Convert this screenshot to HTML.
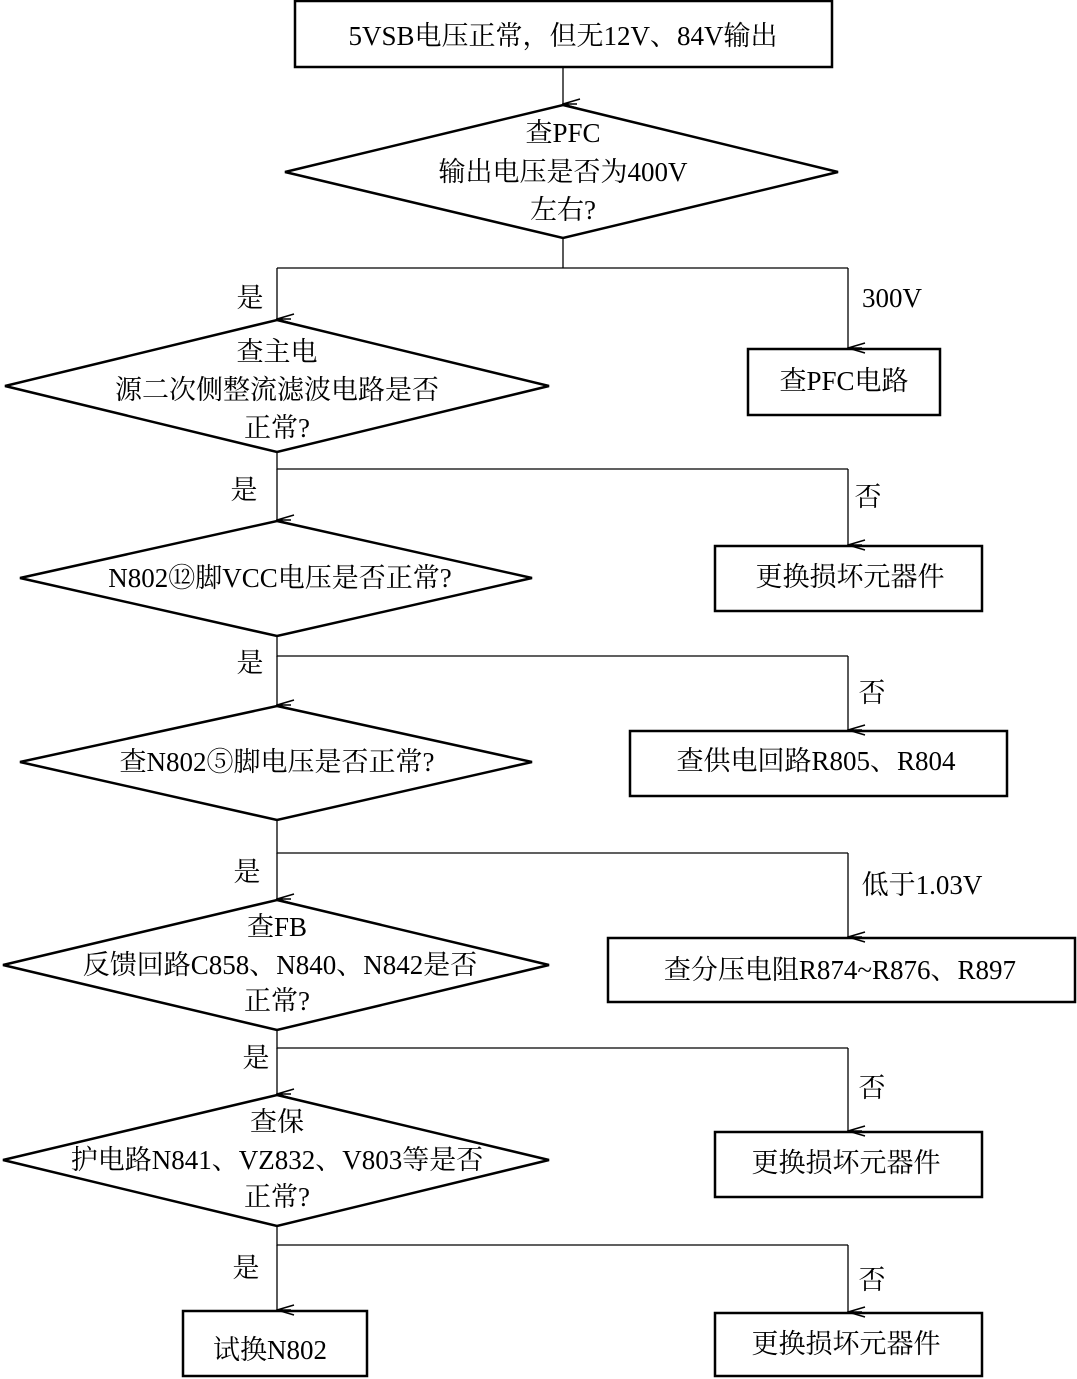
<!DOCTYPE html>
<html><head><meta charset="utf-8"><style>
html,body{margin:0;padding:0;background:#fff}
svg{display:block}
text{font-family:"Liberation Serif","Noto Serif CJK SC","Noto Sans CJK SC",serif;font-size:27px;fill:#000;text-anchor:middle;dominant-baseline:central}
</style></head><body>
<svg width="1077" height="1379" viewBox="0 0 1077 1379" xmlns="http://www.w3.org/2000/svg">
<defs><marker id="a" markerWidth="12" markerHeight="20" refX="6" refY="19" orient="auto" markerUnits="userSpaceOnUse"><path d="M1,2 L6,19 L11,2 M6,19 L6,5" fill="none" stroke="#000" stroke-width="1.5"/></marker></defs>
<g fill="none" stroke="#000" stroke-width="2.5">
<rect x="295" y="1" width="537" height="66"/>
<polygon points="563,105 838,172 563,238 285,172"/>
<polygon points="277,320 549,386 277,452 5,386"/>
<rect x="748" y="349" width="192" height="66"/>
<polygon points="277,521 532,578 277,636 20,578"/>
<rect x="715" y="546" width="267" height="65"/>
<polygon points="277,706 532,762 277,820 20,762"/>
<rect x="630" y="731" width="377" height="65"/>
<polygon points="277,900 549,965 277,1030 3,965"/>
<rect x="608" y="938" width="467" height="64"/>
<polygon points="277,1095 549,1160 277,1226 3,1160"/>
<rect x="715" y="1132" width="267" height="65"/>
<rect x="183" y="1311" width="184" height="65"/>
<rect x="715" y="1313" width="267" height="63"/>
</g>
<g fill="none" stroke="#000" stroke-width="1.3">
<path d="M563,67 V104" marker-end="url(#a)"/>
<path d="M563,238 V268 M277,268 H848"/>
<path d="M277,268 V319" marker-end="url(#a)"/>
<path d="M848,268 V348" marker-end="url(#a)"/>
<path d="M277,452 V469 H848"/>
<path d="M277,469 V520" marker-end="url(#a)"/>
<path d="M848,469 V545" marker-end="url(#a)"/>
<path d="M277,636 V656 H848"/>
<path d="M277,656 V705" marker-end="url(#a)"/>
<path d="M848,656 V730" marker-end="url(#a)"/>
<path d="M277,820 V853 H848"/>
<path d="M277,853 V899" marker-end="url(#a)"/>
<path d="M848,853 V937" marker-end="url(#a)"/>
<path d="M277,1030 V1048 H848"/>
<path d="M277,1048 V1094" marker-end="url(#a)"/>
<path d="M848,1048 V1131" marker-end="url(#a)"/>
<path d="M277,1226 V1245 H848"/>
<path d="M277,1245 V1310" marker-end="url(#a)"/>
<path d="M848,1245 V1312" marker-end="url(#a)"/>
</g>
<text x="563" y="36">5VSB电压正常，但无12V、84V输出</text>
<text x="563" y="133">查PFC</text>
<text x="563" y="172">输出电压是否为400V</text>
<text x="563" y="210">左右?</text>
<text x="250" y="298">是</text>
<text x="892" y="298">300V</text>
<text x="277" y="352">查主电</text>
<text x="277" y="390">源二次侧整流滤波电路是否</text>
<text x="277" y="428">正常?</text>
<text x="844" y="381">查PFC电路</text>
<text x="244" y="490">是</text>
<text x="868" y="497">否</text>
<text x="280" y="578">N802⑫脚VCC电压是否正常?</text>
<text x="850" y="577">更换损坏元器件</text>
<text x="250" y="663">是</text>
<text x="872" y="693">否</text>
<text x="277" y="762">查N802⑤脚电压是否正常?</text>
<text x="816" y="761">查供电回路R805、R804</text>
<text x="247" y="872">是</text>
<text x="922" y="885">低于1.03V</text>
<text x="277" y="927">查FB</text>
<text x="280" y="965">反馈回路C858、N840、N842是否</text>
<text x="277" y="1001">正常?</text>
<text x="840" y="970">查分压电阻R874~R876、R897</text>
<text x="256" y="1058">是</text>
<text x="872" y="1088">否</text>
<text x="277" y="1122">查保</text>
<text x="277" y="1160">护电路N841、VZ832、V803等是否</text>
<text x="277" y="1197">正常?</text>
<text x="846" y="1163">更换损坏元器件</text>
<text x="246" y="1268">是</text>
<text x="872" y="1280">否</text>
<text x="270" y="1350">试换N802</text>
<text x="846" y="1344">更换损坏元器件</text>
</svg>
</body></html>
